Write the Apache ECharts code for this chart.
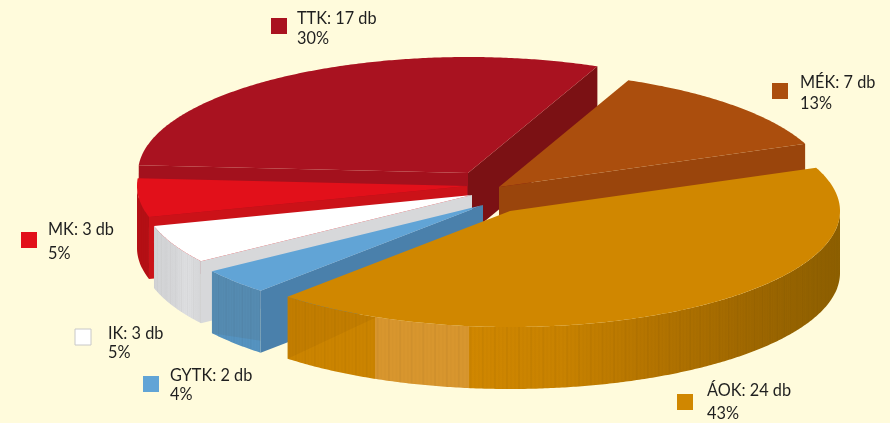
<!DOCTYPE html>
<html>
<head>
<meta charset="utf-8">
<style>
  html, body { margin: 0; padding: 0; background: #fffbdc; }
  #main { width: 890px; height: 423px; }
</style>
<script src="https://cdn.jsdelivr.net/npm/echarts@6/dist/echarts.min.js"></script>
</head>
<body>
<div id="main"></div>
<script>
// data, clockwise from the TTK slice
var categories = ['TTK', 'MÉK', 'ÁOK', 'GYTK', 'IK', 'MK']
var counts = [17, 7, 24, 2, 3, 3]
var percents = ['30%', '13%', '43%', '4%', '5%', '5%']

// layout of the fake 3d pie
var RX = 330
var RY = 116
var DEPTH = 62
var START_ANGLE = 176.2
var PIE_CENTER = [480, 190]
var explode = [[-12, -17], [19, -3], [30, 21], [3, 15], [-8, 5], [-13, -4]]
var drawOrder = [0, 1, 5, 4, 3, 2]

var topColors = ['#a91220', '#ab4e0d', '#d08700', '#61a4d6', '#ffffff', '#e2101a']
var startWall = ['#a3111d', null, null, '#4a80ab', '#d7d8da', '#cb1218']
var endWall = ['#7b1114', '#9a450c', null, null, null, null]
var outerStops = [
  [[0, '#a0101c'], [1, '#a0101c']],
  [[0, '#9a450c'], [1, '#9a450c']],
  [[0, '#cb8400'], [0.158, '#cb8400'], [0.159, '#d8962e'], [0.328, '#d8962e'], [0.329, '#d08700'],
    [0.5, '#c88200'], [0.66, '#b47400'], [0.86, '#9c6600'], [1, '#8d5f00']],
  [[0, '#5593c0'], [1, '#5593c0']],
  [[0, '#d2d3d5'], [0.45, '#d6d7d9'], [0.7, '#dedfe1'], [1, '#d6d7d9']],
  [[0, '#b51015'], [1, '#b51015']]
]
// darker patch on the upper left of a wall [share of the wall, drop at its end]
var wallShade = [null, null, [0.14, 0], [1, 50], null, null]

var labelPos = [
  { box: [271, 18], x: 297, y: [19, 39] },
  { box: [772, 83], x: 800, y: [83, 104] },
  { box: [677, 394], x: 707, y: [391, 414] },
  { box: [143, 376], x: 170, y: [376, 395] },
  { box: [75, 329], x: 108, y: [334, 353] },
  { box: [21, 232], x: 48, y: [230, 254] }
]

var total = counts.reduce(function (a, b) { return a + b }, 0)
var angles = []
var run = START_ANGLE
for (var n = 0; n < counts.length; n++) {
  var next = run - counts[n] / total * 360
  angles.push([run, next])
  run = next
}

function rim(c, deg, drop) {
  var r = deg * Math.PI / 180
  return [c[0] + RX * Math.cos(r), c[1] - RY * Math.sin(r) + (drop || 0)]
}

function arcPoints(c, from, to, drop) {
  var pts = []
  var steps = Math.max(2, Math.ceil(Math.abs(from - to) * 2))
  for (var k = 0; k <= steps; k++) {
    pts.push(rim(c, from + (to - from) * k / steps, drop))
  }
  return pts
}

function poly(points, fill) {
  return { type: 'polygon', shape: { points: points }, style: { fill: fill } }
}

function renderSlice(params, api) {
  var i = api.value(0)
  var c = [PIE_CENTER[0] + explode[i][0], PIE_CENTER[1] + explode[i][1]]
  var a0 = angles[i][0]
  var a1 = angles[i][1]
  var children = []
  var low = [c[0], c[1] + DEPTH]

  if (startWall[i]) {
    var p0 = rim(c, a0)
    children.push(poly([c, p0, [p0[0], p0[1] + DEPTH], low], startWall[i]))
  }
  if (endWall[i]) {
    var p1 = rim(c, a1)
    children.push(poly([c, p1, [p1[0], p1[1] + DEPTH], low], endWall[i]))
  }

  // outer wall, only the front half of the ellipse can be seen
  var from = Math.min(a0, 0)
  var to = Math.max(a1, -180)
  if (from > to) {
    var up = arcPoints(c, from, to)
    var down = arcPoints(c, to, from, DEPTH)
    var stops = outerStops[i].map(function (s) { return { offset: s[0], color: s[1] } })
    children.push(poly(up.concat(down), {
      type: 'linear', x: 0, y: 0, x2: 1, y2: 0, colorStops: stops
    }))
    // thin vertical streaks seen on the wall
    var count = Math.floor((from - to) / 0.35)
    for (var k = 0; k < count; k += 2) {
      var s0 = from - (from - to) * k / count
      var s1 = from - (from - to) * (k + 1) / count
      var q0 = rim(c, s0)
      var q1 = rim(c, s1)
      children.push(poly([q0, q1, [q1[0], q1[1] + DEPTH], [q0[0], q0[1] + DEPTH]],
        k % 6 === 0 ? 'rgba(0,0,0,0.035)' : 'rgba(0,0,0,0.012)'))
    }
    if (wallShade[i]) {
      var end = to + (from - to) * wallShade[i][0]
      var e = rim(c, end, wallShade[i][1])
      var corner = rim(c, to, DEPTH)
      children.push(poly(arcPoints(c, to, end).concat([e, corner]), 'rgba(90,50,0,0.08)'))
    }
  }

  children.push(poly([c].concat(arcPoints(c, a0, a1)), topColors[i]))
  return { type: 'group', children: children }
}

var labelElements = []
categories.forEach(function (name, i) {
  var p = labelPos[i]
  labelElements.push({
    type: 'rect',
    shape: { x: p.box[0], y: p.box[1], width: 16, height: 16 },
    style: { fill: topColors[i], stroke: name === 'IK' ? '#c8c8c8' : null, lineWidth: 1 }
  })
  var lines = [name + ': ' + counts[i] + ' db', percents[i]]
  lines.forEach(function (text, j) {
    labelElements.push({
      type: 'text',
      x: p.x,
      y: p.y[j],
      style: {
        text: text,
        fill: '#1f1f1f',
        font: '16.3px Lato',
        textVerticalAlign: 'middle'
      }
    })
  })
})

var myChart = echarts.init(document.getElementById('main'))
var option = {
  backgroundColor: '#fffbdc',
  animation: false,
  graphic: labelElements,
  series: [
    {
      type: 'custom',
      coordinateSystem: 'none',
      silent: true,
      renderItem: renderSlice,
      data: drawOrder.map(function (i) { return [i, counts[i]] })
    }
  ]
}
myChart.setOption(option)
</script>
</body>
</html>
